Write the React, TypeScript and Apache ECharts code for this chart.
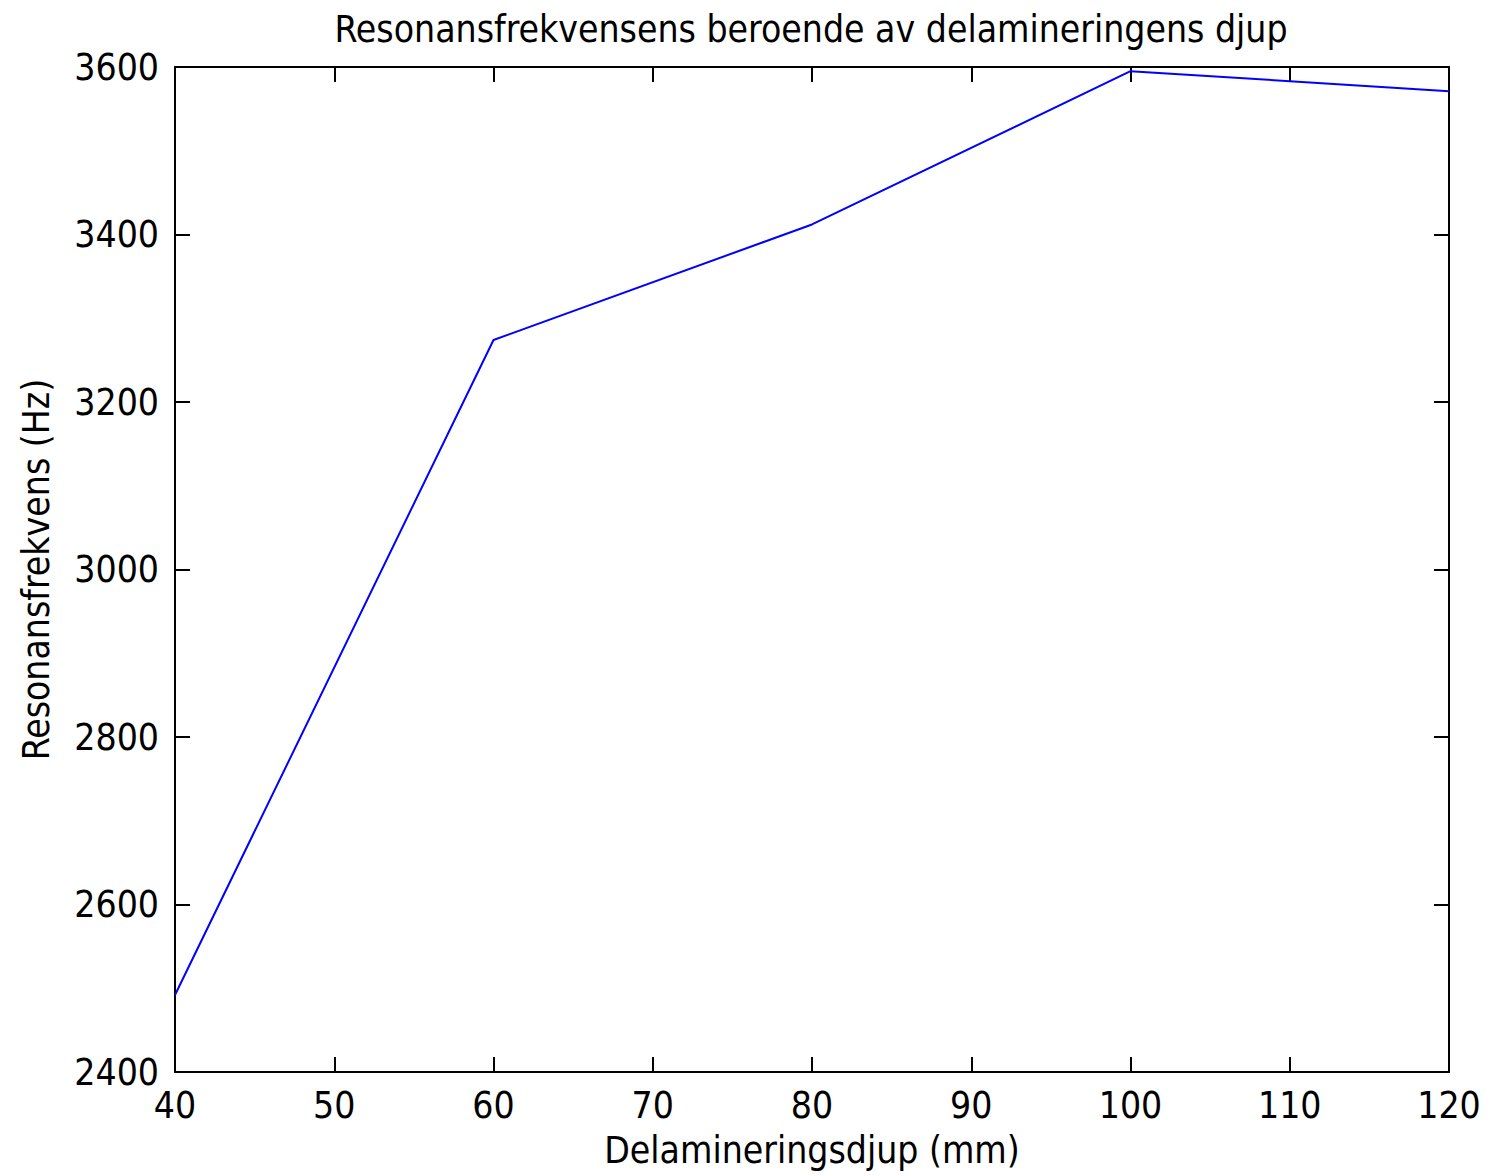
import React, { useEffect, useRef } from "react";
import * as echarts from "echarts";

const depthsMm = [40, 60, 80, 100, 120];
const freqHz = [2492, 3274, 3412, 3595, 3571];
const xTicks = [40, 50, 60, 70, 80, 90, 100, 110, 120];
const yTicks = [2400, 2600, 2800, 3000, 3200, 3400, 3600];

const FONT = "'Liberation Sans Narrow', 'DejaVu Sans Condensed', 'Liberation Sans', sans-serif";
const FS = 37;

export default function App() {
  const ref = useRef<HTMLDivElement>(null);
  useEffect(() => {
    document.body.style.margin = "0";
    if (!ref.current) return;
    const chart = echarts.init(ref.current, undefined, { renderer: "svg" });
    const axisCommon = {
      axisLine: { show: true, onZero: false, lineStyle: { color: "#000", width: 2 } },
      axisTick: { show: true, inside: true, length: 15, lineStyle: { color: "#000", width: 2 } },
      splitLine: { show: false },
    };
    chart.setOption({
      animation: false,
      backgroundColor: "#fff",
      title: {
        text: "Resonansfrekvensens beroende av delamineringens djup",
        left: 806,
        textAlign: "center",
        top: 6,
        textStyle: { fontFamily: FONT, fontSize: FS, fontWeight: "normal", color: "#000" },
      },
      grid: { left: 175, top: 67, right: 54, bottom: 104, containLabel: false },
      xAxis: [
        {
          type: "value",
          min: xTicks[0],
          max: xTicks[xTicks.length - 1],
          interval: 10,
          name: "Delamineringsdjup (mm)",
          nameLocation: "middle",
          nameGap: 60,
          nameTextStyle: { fontFamily: FONT, fontSize: FS, color: "#000" },
          axisLabel: { fontFamily: FONT, fontSize: FS, color: "#000", margin: 15, formatter: (v: number) => String(v) },
          ...axisCommon,
        },
        {
          type: "value",
          position: "top",
          min: xTicks[0],
          max: xTicks[xTicks.length - 1],
          interval: 10,
          axisLabel: { show: false },
          ...axisCommon,
        },
      ],
      yAxis: [
        {
          type: "value",
          min: yTicks[0],
          max: yTicks[yTicks.length - 1],
          interval: 200,
          name: "Resonansfrekvens (Hz)",
          nameLocation: "middle",
          nameGap: 120,
          nameTextStyle: { fontFamily: FONT, fontSize: FS, color: "#000" },
          axisLabel: { fontFamily: FONT, fontSize: FS, color: "#000", margin: 16, formatter: (v: number) => String(v) },
          ...axisCommon,
        },
        {
          type: "value",
          position: "right",
          min: yTicks[0],
          max: yTicks[yTicks.length - 1],
          interval: 200,
          axisLabel: { show: false },
          ...axisCommon,
        },
      ],
      series: [
        {
          type: "line",
          data: depthsMm.map((d, i) => [d, freqHz[i]]),
          showSymbol: false,
          symbol: "none",
          lineStyle: { color: "#0000ff", width: 2 },
          itemStyle: { color: "#0000ff" },
        },
      ],
    });
    return () => chart.dispose();
  }, []);
  return <div ref={ref} style={{ width: 1503, height: 1176 }} />;
}
